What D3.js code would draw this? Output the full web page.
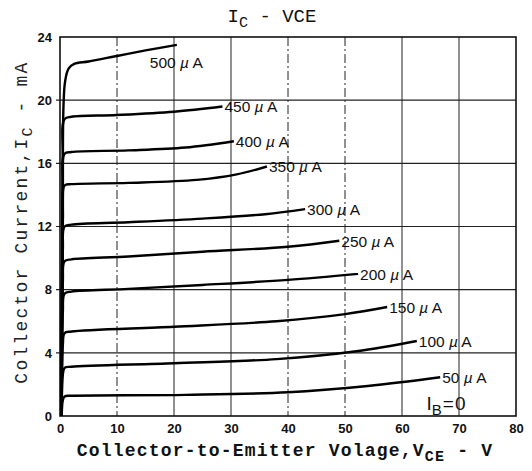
<!DOCTYPE html>
<html>
<head>
<meta charset="utf-8">
<script src="https://cdn.jsdelivr.net/npm/d3@7"></script>
<style>
  body { margin: 0; background: #fff; }
  svg { display: block; }
</style>
</head>
<body>
<svg id="chart" width="532" height="471"></svg>
<script>
// base current of each curve (µA) and its label
const baseCurrents = [500, 450, 400, 350, 300, 250, 200, 150, 100, 50];

// Ic (mA) versus Vce (V) for each base current
const ib500 = [[0.3, 0], [0.5, 12], [0.6, 19.5], [0.9, 21.2], [1.5, 22.0], [2.5, 22.3], [5, 22.45], [10, 22.8], [15, 23.15], [20.5, 23.5]];
const ib450 = [[0.3, 0], [0.5, 16], [0.8, 18.8], [2, 18.95], [10, 19.06], [20, 19.27], [28.5, 19.6]];
const ib400 = [[0.3, 0], [0.5, 14], [0.8, 16.6], [2, 16.72], [12, 16.82], [22, 17.0], [30.5, 17.4]];
const ib350 = [[0.3, 0], [0.5, 12.5], [0.8, 14.6], [2, 14.68], [12, 14.76], [24, 14.95], [31, 15.3], [36.3, 15.8]];
const ib300 = [[0.3, 0], [0.5, 10.5], [0.8, 12.0], [2, 12.12], [12, 12.27], [25, 12.5], [36, 12.78], [43, 13.1]];
const ib250 = [[0.3, 0], [0.5, 8.5], [0.8, 9.8], [2, 9.92], [12, 10.1], [25, 10.4], [40, 10.72], [49, 11.1]];
const ib200 = [[0.3, 0], [0.5, 6.6], [0.8, 7.75], [2, 7.88], [12, 8.05], [25, 8.3], [40, 8.62], [52.3, 9.0]];
const ib150 = [[0.3, 0], [0.5, 4.5], [0.8, 5.25], [2, 5.35], [20, 5.65], [38, 6.0], [50, 6.45], [57.4, 6.9]];
const ib100 = [[0.3, 0], [0.5, 2.6], [0.8, 3.05], [2, 3.12], [20, 3.34], [38, 3.6], [52, 4.1], [62.6, 4.75]];
const ib50 = [[0.3, 0], [0.5, 1.0], [0.8, 1.24], [2, 1.28], [22, 1.34], [40, 1.5], [54, 1.9], [66.7, 2.45]];
const curves = [ib500, ib450, ib400, ib350, ib300, ib250, ib200, ib150, ib100, ib50];

const xTicks = [0, 10, 20, 30, 40, 50, 60, 70, 80];
const yTicks = [0, 4, 8, 12, 16, 20, 24];
const dashedX = [10, 40, 50];

const svg = d3.select("#chart");
const plot = { left: 60, right: 516, top: 37, bottom: 416 };

const x = d3.scaleLinear().domain([0, 80]).range([plot.left, plot.right]);
const y = d3.scaleLinear().domain([0, 24]).range([plot.bottom, plot.top]);

const monoFont = "'Liberation Mono', 'DejaVu Sans Mono', monospace";
const sansFont = "'Liberation Sans', Arial, sans-serif";

// grid
svg.append("g")
  .selectAll("line.vgrid")
  .data(xTicks.slice(1, -1))
  .join("line")
  .attr("x1", (d) => x(d)).attr("x2", (d) => x(d))
  .attr("y1", plot.top).attr("y2", plot.bottom)
  .attr("stroke", "#222")
  .attr("stroke-width", 1)
  .attr("stroke-dasharray", (d) => (dashedX.includes(d) ? "9,3,2,3" : null));

svg.append("g")
  .selectAll("line.hgrid")
  .data(yTicks.slice(1, -1))
  .join("line")
  .attr("x1", plot.left - 4).attr("x2", plot.right)
  .attr("y1", (d) => y(d)).attr("y2", (d) => y(d))
  .attr("stroke", "#222")
  .attr("stroke-width", 1.2);

// frame
svg.append("rect")
  .attr("x", plot.left).attr("y", plot.top)
  .attr("width", plot.right - plot.left)
  .attr("height", plot.bottom - plot.top)
  .attr("fill", "none")
  .attr("stroke", "#111")
  .attr("stroke-width", 1.6);

// axes (labels only)
const xAxis = svg.append("g")
  .attr("transform", `translate(0,${plot.bottom})`)
  .call(d3.axisBottom(x).tickValues(xTicks).tickSize(0).tickPadding(8));
xAxis.select(".domain").remove();
xAxis.selectAll("text")
  .style("font-family", sansFont)
  .style("font-weight", "bold")
  .style("font-size", "13px")
  .attr("fill", "#111");

const yAxis = svg.append("g")
  .attr("transform", `translate(${plot.left},0)`)
  .call(d3.axisLeft(y).tickValues(yTicks).tickSize(0).tickPadding(8));
yAxis.select(".domain").remove();
yAxis.selectAll("text")
  .style("font-family", sansFont)
  .style("font-weight", "bold")
  .style("font-size", "13px")
  .attr("fill", "#111");

// curves
const line = d3.line()
  .x((d) => x(d[0]))
  .y((d) => y(d[1]))
  .curve(d3.curveCatmullRom.alpha(0.5));

svg.append("g")
  .selectAll("path")
  .data(curves)
  .join("path")
  .attr("d", line)
  .attr("fill", "none")
  .attr("stroke", "#000")
  .attr("stroke-width", 2.4)
  .attr("stroke-linejoin", "round");

// curve labels at the end of each curve
const labels = svg.append("g")
  .style("font-family", sansFont)
  .style("font-size", "15.5px")
  .attr("fill", "#111");

curves.forEach((pts, i) => {
  const end = pts[pts.length - 1];
  const first = i === 0;
  const t = labels.append("text")
    .attr("x", x(end[0]) + (first ? -27 : 2))
    .attr("y", y(end[1]) + (first ? 23 : 6));
  t.append("tspan").text(baseCurrents[i] + " ");
  t.append("tspan").style("font-style", "italic").text("µ");
  t.append("tspan").text(" A");
});

// IB = 0
const ib0 = svg.append("text")
  .attr("x", x(64.3))
  .attr("y", y(0) - 6)
  .style("font-family", sansFont)
  .style("font-size", "19px")
  .attr("fill", "#111");
ib0.append("tspan").text("I");
ib0.append("tspan").attr("dy", 5).style("font-size", "15px").text("B");
ib0.append("tspan").attr("dy", -5).attr("dx", 1).style("letter-spacing", "1px").text("=0");

// title
const title = svg.append("text")
  .attr("x", 272)
  .attr("y", 22)
  .attr("text-anchor", "middle")
  .style("font-family", monoFont)
  .style("font-size", "19px")
  .attr("fill", "#111");
title.append("tspan").text("I");
title.append("tspan").attr("dy", 5).style("font-size", "15px").text("C");
title.append("tspan").attr("dy", -5).text(" - VCE");

// x axis title
const xTitle = svg.append("text")
  .attr("x", 285)
  .attr("y", 456)
  .attr("text-anchor", "middle")
  .style("font-family", monoFont)
  .style("font-weight", "bold")
  .style("font-size", "18px")
  .style("letter-spacing", "1.2px")
  .attr("fill", "#111");
xTitle.append("tspan").text("Collector-to-Emitter Volage,V");
xTitle.append("tspan").attr("dy", 5).style("font-size", "15px").text("CE");
xTitle.append("tspan").attr("dy", -5).text(" - V");

// y axis title
const yTitle = svg.append("text")
  .attr("transform", "translate(27,222) rotate(-90)")
  .attr("text-anchor", "middle")
  .style("font-family", monoFont)
  .style("font-size", "18px")
  .style("letter-spacing", "2.2px")
  .attr("fill", "#222");
yTitle.append("tspan").text("Collector Current,I");
yTitle.append("tspan").attr("dy", 5).style("font-size", "15px").text("C");
yTitle.append("tspan").attr("dy", -5).text(" - mA");
</script>
</body>
</html>
